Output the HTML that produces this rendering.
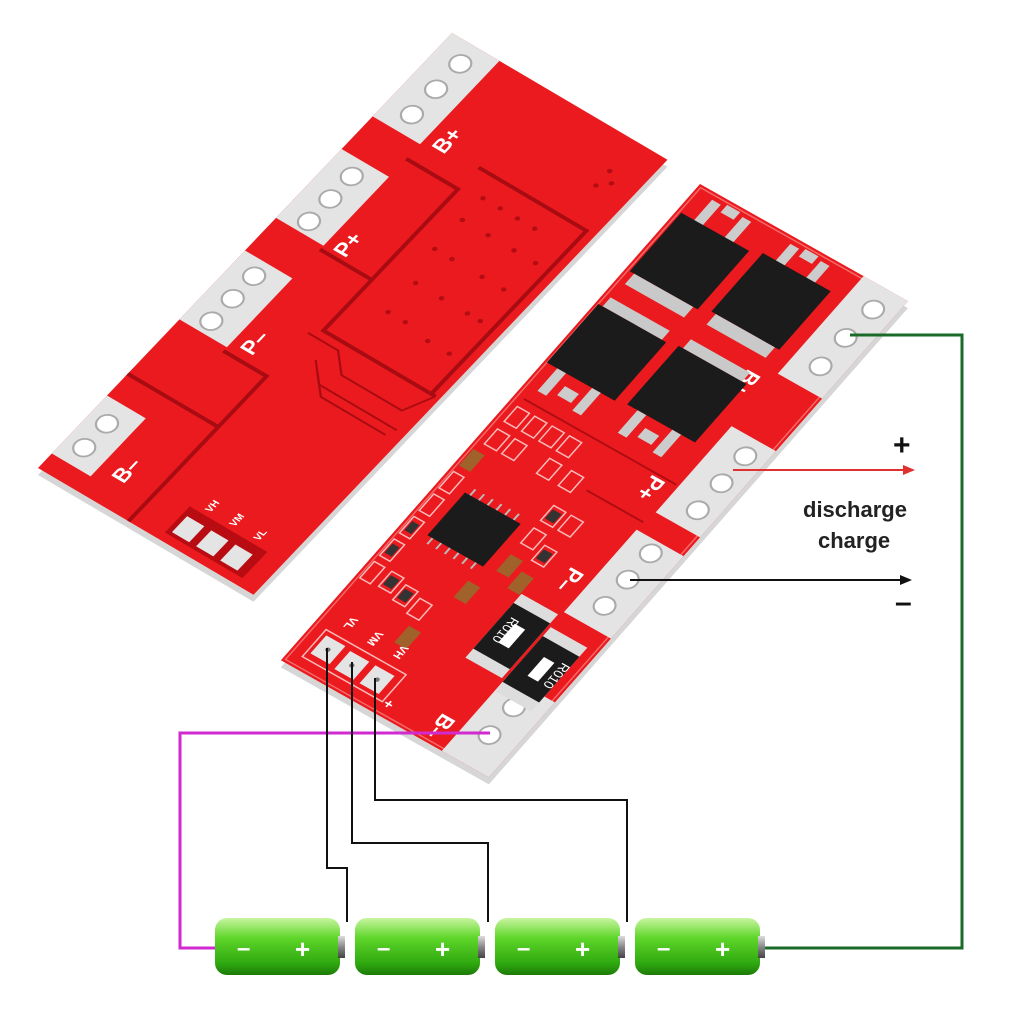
<!DOCTYPE html>
<html><head><meta charset="utf-8"><style>
html,body{margin:0;padding:0;background:#fff;}
svg{display:block;}
text{font-family:"Liberation Sans",sans-serif;}
</style></head><body>
<svg width="1024" height="1024" viewBox="0 0 1024 1024" xmlns="http://www.w3.org/2000/svg">
<defs>
<linearGradient id="bat" x1="0" y1="0" x2="0" y2="1">
<stop offset="0" stop-color="#c8f5a0"/><stop offset="0.35" stop-color="#5fd62a"/><stop offset="0.8" stop-color="#2ea80f"/><stop offset="1" stop-color="#1d7a08"/>
</linearGradient>
<linearGradient id="cap" x1="0" y1="0" x2="0" y2="1">
<stop offset="0" stop-color="#ddd"/><stop offset="0.5" stop-color="#888"/><stop offset="1" stop-color="#444"/>
</linearGradient>
</defs>
<rect width="1024" height="1024" fill="#fff"/>

<!-- LEFT BOARD -->
<g transform="translate(0,7)"><g transform="matrix(0.862,0.507,-0.69,0.725,452,33)"><rect width="250" height="600" fill="#d6d6d6"/></g></g>
<g transform="matrix(0.862,0.507,-0.69,0.725,452,33)">
<rect width="250" height="600" fill="#ea1a1e"/>
<g fill="none" stroke="#a80c12" stroke-width="4">
<path d="M55,135 L115,135 L115,330 L245,330"/>
<path d="M115,105 L240,105 L240,330"/>
<path d="M55,260 L115,260"/>
<path d="M55,400 L105,400 L105,600"/>
<path d="M0,470 L105,470"/>
<path d="M105,340 L140,340 L160,360 L230,360 L245,330" stroke-width="2"/>
<path d="M130,360 L150,380 L240,380" stroke-width="2"/>
<path d="M140,370 L160,390 L235,390" stroke-width="2"/>
</g>
<g fill="#b30d13">
<circle cx="140" cy="130" r="2.5"/><circle cx="160" cy="130" r="2.5"/><circle cx="180" cy="130" r="2.5"/><circle cx="200" cy="130" r="2.5"/>
<circle cx="140" cy="160" r="2.5"/><circle cx="170" cy="160" r="2.5"/><circle cx="200" cy="160" r="2.5"/><circle cx="225" cy="160" r="2.5"/>
<circle cx="140" cy="200" r="2.5"/><circle cx="160" cy="200" r="2.5"/><circle cx="195" cy="200" r="2.5"/><circle cx="220" cy="200" r="2.5"/>
<circle cx="150" cy="240" r="2.5"/><circle cx="180" cy="240" r="2.5"/><circle cx="210" cy="240" r="2.5"/><circle cx="225" cy="240" r="2.5"/>
<circle cx="150" cy="280" r="2.5"/><circle cx="170" cy="280" r="2.5"/><circle cx="200" cy="285" r="2.5"/><circle cx="225" cy="285" r="2.5"/>
<circle cx="215" cy="40" r="2.5"/><circle cx="225" cy="50" r="2.5"/><circle cx="215" cy="60" r="2.5"/>
</g>
<g fill="#e4e4e4">
<rect x="0" y="0" width="55" height="115"/>
<rect x="0" y="160" width="55" height="95"/>
<rect x="0" y="300" width="55" height="95"/>
<rect x="0" y="500" width="45" height="80"/>
</g>
<g fill="#fff" stroke="#aaa" stroke-width="2">
<circle cx="28" cy="23" r="10"/><circle cx="28" cy="58" r="10"/><circle cx="28" cy="93" r="10"/>
<circle cx="27" cy="179" r="10"/><circle cx="27" cy="210" r="10"/><circle cx="27" cy="241" r="10"/>
<circle cx="25" cy="318" r="10"/><circle cx="25" cy="349" r="10"/><circle cx="25" cy="380" r="10"/>
<circle cx="20" cy="525" r="10"/><circle cx="20" cy="558" r="10"/>
</g>
<g fill="#fff" font-weight="bold" font-size="22">
<text transform="translate(80,112) rotate(-90)">B+</text>
<text transform="translate(80,255) rotate(-90)">P+</text>
<text transform="translate(80,390) rotate(-90)">P–</text>
<text transform="translate(75,570) rotate(-90)">B–</text>
</g>
<rect x="140" y="555" width="90" height="36" fill="#b80c12"/>
<g fill="#e4e4e4"><rect x="145" y="565" width="20" height="22"/><rect x="173" y="565" width="20" height="22"/><rect x="201" y="565" width="20" height="22"/></g>
<g fill="#fff" font-weight="bold" font-size="10">
<text transform="translate(160,550) rotate(-90)">VH</text>
<text transform="translate(188,550) rotate(-90)">VM</text>
<text transform="translate(216,550) rotate(-90)">VL</text>
</g>
</g>

<!-- RIGHT BOARD -->
<g transform="translate(0,7)"><g transform="matrix(0.87,0.49,-0.66,0.75,700,184)"><rect width="239" height="635" fill="#d6d6d6"/></g></g>
<g transform="matrix(0.87,0.49,-0.66,0.75,700,184)">
<rect width="239" height="635" fill="#ea1a1e"/>
<rect x="3" y="3" width="233" height="629" fill="none" stroke="#f56a6a" stroke-width="1.5"/>
<g fill="#e4e4e4">
<rect x="188" y="0" width="51" height="130"/>
<rect x="188" y="200" width="51" height="115"/>
<rect x="185" y="340" width="54" height="110"/>
<rect x="185" y="535" width="54" height="100"/>
</g>
<g fill="#fff" stroke="#aaa" stroke-width="2">
<circle cx="218" cy="25" r="10"/><circle cx="216" cy="64" r="10"/><circle cx="216" cy="102" r="10"/>
<circle cx="219" cy="220" r="10"/><circle cx="219" cy="256" r="10"/><circle cx="219" cy="292" r="10"/>
<circle cx="212" cy="354" r="10"/><circle cx="212" cy="389" r="10"/><circle cx="212" cy="424" r="10"/>
<circle cx="211" cy="560" r="10"/><circle cx="211" cy="597" r="10"/>
</g>
<g fill="#fff" font-weight="bold" font-size="22">
<text transform="translate(162,140) rotate(90)">B+</text>
<text transform="translate(160,282) rotate(90)">P+</text>
<text transform="translate(160,405) rotate(90)">P–</text>
<text transform="translate(160,600) rotate(90)">B–</text>
</g>
<g>
<g fill="#ccc"><rect x="20" y="8" width="10" height="28"/><rect x="55" y="8" width="10" height="28"/><rect x="110" y="8" width="10" height="28"/><rect x="145" y="8" width="10" height="28"/><rect x="35" y="5" width="15" height="10"/><rect x="125" y="5" width="15" height="10"/></g>
<rect x="5" y="35" width="78" height="78" fill="#1b1b1b"/>
<rect x="10" y="113" width="68" height="14" fill="#c9c9c9"/>
<rect x="95" y="30" width="78" height="78" fill="#1b1b1b"/>
<rect x="100" y="108" width="68" height="14" fill="#c9c9c9"/>
</g>
<g>
<rect x="8" y="146" width="68" height="12" fill="#c9c9c9"/>
<rect x="3" y="158" width="78" height="78" fill="#1b1b1b"/>
<rect x="98" y="143" width="68" height="12" fill="#c9c9c9"/>
<rect x="93" y="155" width="78" height="78" fill="#1b1b1b"/>
<g fill="#ccc"><rect x="15" y="236" width="10" height="30"/><rect x="55" y="236" width="10" height="30"/><rect x="105" y="233" width="10" height="30"/><rect x="145" y="233" width="10" height="30"/><rect x="33" y="248" width="16" height="12"/><rect x="123" y="245" width="16" height="12"/></g>
</g>
<path d="M10,280 L185,280 M120,330 L185,330" stroke="#b00c12" stroke-width="2" fill="none"/>
<g fill="#ea1a1e" stroke="#fbb" stroke-width="1.5">
<rect x="10" y="290" width="14" height="20"/><rect x="30" y="290" width="14" height="20"/><rect x="50" y="290" width="14" height="20"/><rect x="70" y="290" width="14" height="20"/>
<rect x="10" y="320" width="14" height="20"/><rect x="30" y="320" width="14" height="20"/><rect x="70" y="320" width="14" height="20"/><rect x="95" y="320" width="14" height="20"/>
<rect x="5" y="380" width="12" height="22"/><rect x="5" y="410" width="12" height="22"/><rect x="5" y="440" width="12" height="22"/><rect x="5" y="470" width="12" height="22"/><rect x="5" y="500" width="12" height="22"/>
<rect x="25" y="500" width="14" height="20"/><rect x="45" y="505" width="14" height="20"/><rect x="65" y="510" width="14" height="20"/>
<rect x="105" y="360" width="14" height="20"/><rect x="125" y="360" width="14" height="20"/><rect x="105" y="390" width="14" height="20"/><rect x="125" y="400" width="14" height="20"/>
</g>
<g fill="#333">
<rect x="7" y="445" width="8" height="12"/><rect x="7" y="475" width="8" height="12"/><rect x="27" y="504" width="10" height="12"/><rect x="47" y="509" width="10" height="12"/><rect x="127" y="404" width="10" height="12"/><rect x="107" y="364" width="10" height="12"/>
</g>
<g fill="#a0622a">
<rect x="5" y="350" width="13" height="22"/><rect x="105" y="425" width="14" height="22"/><rect x="125" y="435" width="14" height="22"/><rect x="75" y="540" width="14" height="22"/><rect x="90" y="470" width="14" height="22"/>
</g>
<g stroke="#bbb" stroke-width="2">
<line x1="34" y1="385" x2="34" y2="395"/><line x1="44" y1="385" x2="44" y2="395"/><line x1="54" y1="385" x2="54" y2="395"/><line x1="64" y1="385" x2="64" y2="395"/><line x1="74" y1="385" x2="74" y2="395"/><line x1="84" y1="385" x2="84" y2="395"/>
<line x1="34" y1="448" x2="34" y2="458"/><line x1="44" y1="448" x2="44" y2="458"/><line x1="54" y1="448" x2="54" y2="458"/><line x1="64" y1="448" x2="64" y2="458"/><line x1="74" y1="448" x2="74" y2="458"/><line x1="84" y1="448" x2="84" y2="458"/>
</g>
<rect x="28" y="393" width="64" height="57" fill="#1b1b1b"/>
<rect x="140" y="455" width="42" height="85" fill="#ddd"/>
<rect x="140" y="467" width="42" height="61" fill="#1b1b1b"/>
<rect x="185" y="470" width="42" height="85" fill="#ddd"/>
<rect x="185" y="482" width="42" height="61" fill="#1b1b1b"/>
<rect x="155" y="485" width="12" height="25" fill="#fff"/>
<rect x="200" y="500" width="12" height="25" fill="#fff"/>
<text transform="translate(148,480) rotate(90)" fill="#fff" font-size="13">R010</text>
<text transform="translate(218,495) rotate(90)" fill="#fff" font-size="13">R010</text>
<rect x="14" y="585" width="92" height="36" fill="none" stroke="#fbb" stroke-width="1.5"/>
<g fill="#e4e4e4"><rect x="18" y="590" width="22" height="24"/><rect x="47" y="592" width="22" height="24"/><rect x="76" y="592" width="22" height="24"/></g>
<g fill="#777"><circle cx="29" cy="602" r="2.5"/><circle cx="58" cy="604" r="2.5"/><circle cx="87" cy="604" r="2.5"/></g>
<g fill="#fff" font-weight="bold" font-size="11">
<text transform="translate(25,560) rotate(90)">VL</text>
<text transform="translate(54,560) rotate(90)">VM</text>
<text transform="translate(83,560) rotate(90)">VH</text>
<text x="108" y="625" font-size="15">+</text>
</g>
</g>

<polyline points="850,335 962,335 962,948 762,948" fill="none" stroke="#1a6b2a" stroke-width="3"/>
<polyline points="490,733 180,733 180,948 215,948" fill="none" stroke="#d02ad0" stroke-width="3"/>
<g fill="none" stroke="#111" stroke-width="2">
<polyline points="327,648 327,868 347,868 347,922"/>
<polyline points="352,662 352,843 488,843 488,922"/>
<polyline points="375,678 375,800 627,800 627,922"/>
</g>
<line x1="733" y1="470" x2="905" y2="470" stroke="#e03030" stroke-width="2"/>
<polygon points="915,470 903,465 903,475" fill="#e03030"/>
<line x1="630" y1="580" x2="902" y2="580" stroke="#111" stroke-width="2"/>
<polygon points="912,580 900,575 900,585" fill="#111"/>
<text x="893" y="455" font-size="30" font-weight="bold" fill="#111">+</text>
<text x="803" y="517" font-size="22" font-weight="bold" fill="#222">discharge</text>
<text x="818" y="548" font-size="22" font-weight="bold" fill="#222">charge</text>
<text x="895" y="612" font-size="30" font-weight="bold" fill="#111">–</text>

<g>
<g transform="translate(215,918)">
<rect x="0" y="0" width="125" height="57" rx="12" fill="url(#bat)"/>
<rect x="123" y="18" width="7" height="22" fill="url(#cap)"/>
<text x="22" y="38" fill="#fff" font-size="24" font-weight="bold">–</text>
<text x="80" y="40" fill="#fff" font-size="26" font-weight="bold">+</text>
</g>
<g transform="translate(355,918)">
<rect x="0" y="0" width="125" height="57" rx="12" fill="url(#bat)"/>
<rect x="123" y="18" width="7" height="22" fill="url(#cap)"/>
<text x="22" y="38" fill="#fff" font-size="24" font-weight="bold">–</text>
<text x="80" y="40" fill="#fff" font-size="26" font-weight="bold">+</text>
</g>
<g transform="translate(495,918)">
<rect x="0" y="0" width="125" height="57" rx="12" fill="url(#bat)"/>
<rect x="123" y="18" width="7" height="22" fill="url(#cap)"/>
<text x="22" y="38" fill="#fff" font-size="24" font-weight="bold">–</text>
<text x="80" y="40" fill="#fff" font-size="26" font-weight="bold">+</text>
</g>
<g transform="translate(635,918)">
<rect x="0" y="0" width="125" height="57" rx="12" fill="url(#bat)"/>
<rect x="123" y="18" width="7" height="22" fill="url(#cap)"/>
<text x="22" y="38" fill="#fff" font-size="24" font-weight="bold">–</text>
<text x="80" y="40" fill="#fff" font-size="26" font-weight="bold">+</text>
</g>
</g>
</svg>
</body></html>
